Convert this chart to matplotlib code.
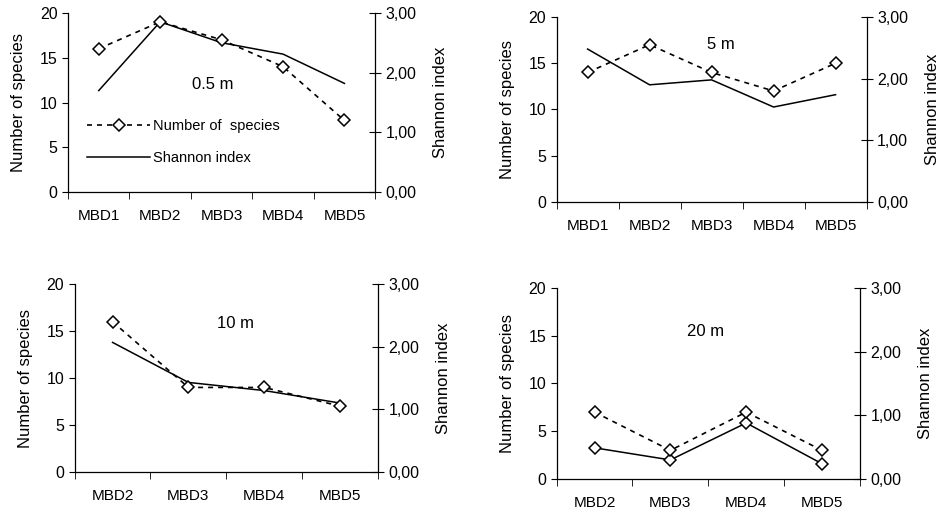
import numpy as np
import matplotlib
matplotlib.use("Agg")
import matplotlib.pyplot as plt
from matplotlib.ticker import FixedLocator

plt.rcParams['font.family'] = ['Liberation Sans', 'DejaVu Sans']
plt.rcParams['font.size'] = 11

# data
cats_a = ['MBD1', 'MBD2', 'MBD3', 'MBD4', 'MBD5']
cats_b = ['MBD2', 'MBD3', 'MBD4', 'MBD5']

species_05 = [16, 19, 17, 14, 8]
shannon_05 = [1.70, 2.85, 2.50, 2.31, 1.82]

species_5 = [14, 17, 14, 12, 15]
shannon_5 = [2.48, 1.90, 1.98, 1.54, 1.74]

species_10 = [16, 9, 9, 7]
shannon_10 = [2.07, 1.43, 1.30, 1.10]

species_20 = [7, 3, 7, 3]
shannon_20 = [0.49, 0.30, 0.88, 0.24]

panels = [
    (cats_a, species_05, shannon_05, '0.5 m', [0.072, 0.626, 0.325, 0.349], (0.47, 0.60), False, True),
    (cats_a, species_5, shannon_5, '5 m', [0.589, 0.607, 0.328, 0.360], (0.53, 0.85), False, False),
    (cats_b, species_10, shannon_10, '10 m', [0.079, 0.082, 0.321, 0.365], (0.53, 0.79), False, False),
    (cats_b, species_20, shannon_20, '20 m', [0.589, 0.068, 0.321, 0.372], (0.49, 0.77), True, False),
]

fig = plt.figure(figsize=(9.45, 5.14), dpi=100)

for cats, sp, sh, label, pos, tpos, sh_markers, show_legend in panels:
    ax = fig.add_axes(pos)
    x = np.arange(len(cats))
    ax2 = ax.twinx()

    l1, = ax.plot(x, sp, color='black', lw=1.2, linestyle=(0, (3, 3)),
                  marker='D', markersize=6.5, markerfacecolor='white',
                  markeredgecolor='black', markeredgewidth=1.1,
                  label='Number of species', zorder=3)
    l2, = ax2.plot(x, sh, color='black', lw=1.1,
                   marker='D' if sh_markers else None, markersize=6.5,
                   markerfacecolor='white', markeredgecolor='black',
                   markeredgewidth=1.1, label='Shannon index')
    ax.set_zorder(ax2.get_zorder() + 1)
    ax.patch.set_visible(False)

    ax.set_xlim(-0.5, len(cats) - 0.5)
    ax.set_ylim(0, 20)
    ax.set_yticks([0, 5, 10, 15, 20])
    ax2.set_ylim(0, 3)
    ax2.set_yticks([0, 1, 2, 3])
    ax2.set_yticklabels(['0,00', '1,00', '2,00', '3,00'])

    ax.set_xticks(x)
    ax.set_xticklabels(cats, fontsize=11)
    ax.tick_params(axis='x', which='major', length=0, pad=12)
    ax.xaxis.set_minor_locator(FixedLocator(np.arange(len(cats) + 1) - 0.5))
    ax.tick_params(axis='x', which='minor', length=5, direction='out')
    ax.tick_params(axis='y', length=4, direction='out', labelsize=11.5)
    ax2.tick_params(axis='y', length=8, direction='inout', labelsize=11.5)

    for a in (ax, ax2):
        a.spines['top'].set_visible(False)
        for s in ('left', 'right', 'bottom'):
            a.spines[s].set_linewidth(0.9)
    ax.spines['right'].set_visible(False)
    ax2.spines['left'].set_visible(False)
    ax2.spines['bottom'].set_visible(False)

    ax.set_ylabel('Number of species', fontsize=12, labelpad=10)
    ax2.set_ylabel('Shannon index', fontsize=12, labelpad=12)

    ax.text(tpos[0], tpos[1], label, transform=ax.transAxes,
            ha='center', va='center', fontsize=12)

    if show_legend:
        ax.legend([l1, l2], ['Number of  species', 'Shannon index'],
                  loc='center left', bbox_to_anchor=(0.02, 0.28),
                  frameon=False, handlelength=4.3, handletextpad=0.2,
                  labelspacing=1.2, fontsize=10.5)

fig.savefig('out.png', dpi=100)
